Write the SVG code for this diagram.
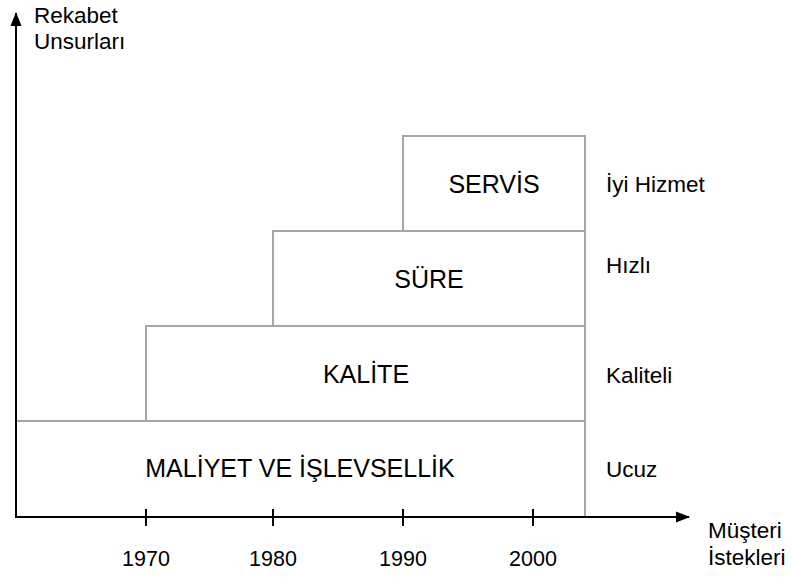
<svg xmlns="http://www.w3.org/2000/svg" width="792" height="578" viewBox="0 0 792 578">
<style>
.box{fill:#fff;stroke:#a6a6a6;stroke-width:2}
.ax{stroke:#000;stroke-width:2;fill:none}
text{font-family:"Liberation Sans",Arial,sans-serif;fill:#000}
.bl{font-size:25px;text-anchor:middle}
.lb{font-size:22.5px}
.yr{font-size:21.5px;text-anchor:middle}
</style>
<defs>
<marker id="ah" markerWidth="14" markerHeight="12" refX="13" refY="6" orient="auto" markerUnits="userSpaceOnUse">
<path d="M0,0.5 L14,6 L0,11.5 Z" fill="#000"/>
</marker>
</defs>
<g id="servis"><rect class="box" x="403" y="136" width="182" height="95"/><text class="bl" x="494" y="193">SERVİS</text></g>
<g id="sure"><rect class="box" x="273" y="231" width="312" height="95"/><text class="bl" x="429" y="288">SÜRE</text></g>
<g id="kalite"><rect class="box" x="146" y="326" width="439" height="95"/><text class="bl" x="366" y="383">KALİTE</text></g>
<g id="maliyet"><rect class="box" x="16" y="421" width="569" height="96"/><text class="bl" x="300" y="477">MALİYET VE İŞLEVSELLİK</text></g>
<g id="connectors">
<line class="ax" x1="16" y1="518" x2="16" y2="13" marker-end="url(#ah)"/>
<line class="ax" x1="15" y1="517" x2="689" y2="517" marker-end="url(#ah)"/>
<line class="ax" x1="146" y1="509" x2="146" y2="526"/>
<line class="ax" x1="273" y1="509" x2="273" y2="526"/>
<line class="ax" x1="403" y1="509" x2="403" y2="526"/>
<line class="ax" x1="533" y1="509" x2="533" y2="526"/>
</g>
<g id="labels">
<text class="lb" x="34" y="23">Rekabet</text>
<text class="lb" x="34" y="49">Unsurları</text>
<text class="lb" x="606" y="192">İyi Hizmet</text>
<text class="lb" x="606" y="273">Hızlı</text>
<text class="lb" x="606" y="383">Kaliteli</text>
<text class="lb" x="606" y="477">Ucuz</text>
<text class="lb" x="708" y="538">Müşteri</text>
<text class="lb" x="708" y="565">İstekleri</text>
<text class="yr" x="146" y="566">1970</text>
<text class="yr" x="273" y="566">1980</text>
<text class="yr" x="403" y="566">1990</text>
<text class="yr" x="533" y="566">2000</text>
</g>
</svg>
